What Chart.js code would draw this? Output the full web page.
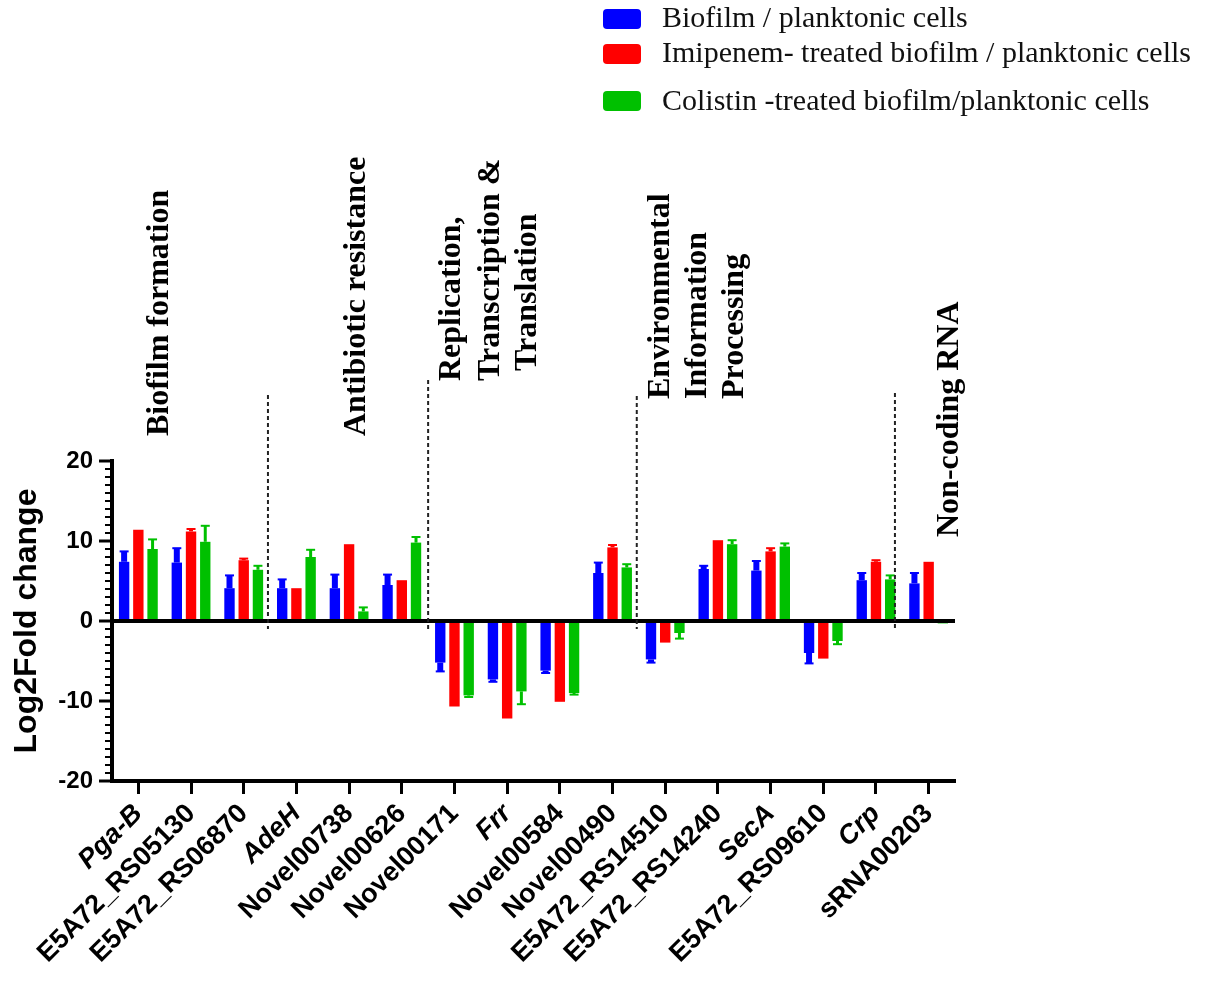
<!DOCTYPE html>
<html>
<head>
<meta charset="utf-8">
<script src="https://cdn.jsdelivr.net/npm/chart.js@4.4.1/dist/chart.umd.min.js"></script>
<style>
  html, body { margin: 0; padding: 0; background: #fff; }
  #wrap { width: 1214px; height: 982px; }
</style>
</head>
<body>
<div id="wrap"><canvas id="grafico" width="1214" height="982"></canvas></div>
<script>
// ---------------- DADOS ----------------
const genes = ["Pga-B", "E5A72_RS05130", "E5A72_RS06870", "AdeH", "Novel00738", "Novel00626",
  "Novel00171", "Frr", "Novel00584", "Novel00490", "E5A72_RS14510", "E5A72_RS14240",
  "SecA", "E5A72_RS09610", "Crp", "sRNA00203"];
const genesItalico = ["Pga-B", "AdeH", "Frr", "SecA", "Crp"];

const series = ["Biofilm / planktonic cells",
  "Imipenem- treated biofilm / planktonic cells",
  "Colistin -treated biofilm/planktonic cells"];

const biofilm     = [7.4, 7.3, 4.1, 4.1, 4.1, 4.5, -5.2, -7.3, -6.2, 6.0, -4.8, 6.5, 6.3, -4.0, 5.1, 4.7];
const biofilmErr  = [1.3, 1.8, 1.6, 1.1, 1.7, 1.3, 1.1, 0.3, 0.3, 1.3, 0.4, 0.4, 1.2, 1.3, 0.9, 1.3];
const imipenem    = [11.4, 11.2, 7.6, 4.1, 9.6, 5.1, -10.7, -12.2, -10.1, 9.2, -2.7, 10.1, 8.7, -4.7, 7.4, 7.4];
const imipenemErr = [0, 0.3, 0.2, 0, 0, 0, 0, 0, 0, 0.3, 0, 0, 0.4, 0, 0.2, 0];
const colistina    = [9.0, 9.9, 6.4, 8.0, 1.2, 9.8, -9.3, -8.8, -9.0, 6.7, -1.5, 9.6, 9.3, -2.5, 5.2, -0.3];
const colistinaErr = [1.2, 2.0, 0.5, 0.9, 0.5, 0.7, 0.2, 1.6, 0.2, 0.4, 0.7, 0.5, 0.4, 0.4, 0.5, 0];

const yTicks = [-20, -10, 0, 10, 20];

const grupos = [
  ["Biofilm formation"],
  ["Antibiotic resistance"],
  ["Replication,", "Transcription &", "Translation"],
  ["Environmental", "Information", "Processing"],
  ["Non-coding RNA"]
];

// ---------------- ESTILO / POSIÇÕES ----------------
const SANS = "'Liberation Sans', Arial, sans-serif";
const SERIF = "'Liberation Serif', 'Times New Roman', serif";
const cores = ["#0000ff", "#ff0000", "#00c000"];
const espessuraErro = [6, 4, 3];

// f = índice fracionário da categoria, y = base do texto (px)
const posGrupos = [
  [{ f: 0.41, y: 436 }],
  [{ f: 4.15, y: 436 }],
  [{ f: 5.95, y: 381 }, { f: 6.69, y: 381 }, { f: 7.40, y: 371 }],
  [{ f: 9.92, y: 399 }, { f: 10.62, y: 399 }, { f: 11.32, y: 399 }],
  [{ f: 15.4, y: 537 }]
];
const separadores = [
  { f: 2.46, topo: 395 },
  { f: 5.50, topo: 380 },
  { f: 9.46, topo: 396 },
  { f: 14.36, topo: 393 }
];
const legendaPos = [
  { y: 9, texto: 19 },
  { y: 44, texto: 54 },
  { y: 91, texto: 102 }
];

// ---------------- PLUGINS ----------------
function catX(chart, f) {
  const x = chart.scales.x;
  const p0 = x.getPixelForValue(0), p1 = x.getPixelForValue(1);
  return p0 + (p1 - p0) * f;
}

const pluginErros = {
  id: "erros",
  afterDatasetsDraw(chart) {
    const { ctx, scales: { y } } = chart;
    chart.data.datasets.forEach((ds, i) => {
      const meta = chart.getDatasetMeta(i);
      meta.data.forEach((barra, j) => {
        const v = ds.data[j], e = ds.err[j];
        if (!e) return;
        const topo = y.getPixelForValue(v + Math.sign(v) * e);
        ctx.save();
        ctx.strokeStyle = ds.backgroundColor;
        ctx.lineWidth = espessuraErro[i];
        ctx.beginPath();
        ctx.moveTo(barra.x, barra.y);
        ctx.lineTo(barra.x, topo);
        ctx.stroke();
        ctx.lineWidth = 2;
        ctx.beginPath();
        ctx.moveTo(barra.x - 4.5, topo);
        ctx.lineTo(barra.x + 4.5, topo);
        ctx.stroke();
        ctx.restore();
      });
    });

    // linha do zero por cima das barras
    const area = chart.chartArea;
    const y0 = y.getPixelForValue(0);
    ctx.save();
    ctx.strokeStyle = "#000";
    ctx.lineWidth = 4;
    ctx.beginPath();
    ctx.moveTo(area.left - 2, y0);
    ctx.lineTo(area.right, y0);
    ctx.stroke();
    ctx.restore();
  }
};

const pluginAnotacoes = {
  id: "anotacoes",
  afterDraw(chart) {
    const { ctx, scales: { y } } = chart;
    const area = chart.chartArea;

    // ticks menores do eixo y
    ctx.save();
    ctx.strokeStyle = "#000";
    ctx.lineWidth = 2;
    for (let v = -20; v <= 20; v++) {
      if (v % 10 === 0) continue;
      const py = y.getPixelForValue(v);
      ctx.beginPath();
      ctx.moveTo(area.left - 7, py);
      ctx.lineTo(area.left, py);
      ctx.stroke();
    }
    ctx.restore();

    // separadores tracejados
    ctx.save();
    ctx.strokeStyle = "#222";
    ctx.lineWidth = 2;
    ctx.setLineDash([4, 3]);
    separadores.forEach(s => {
      const px = catX(chart, s.f);
      ctx.beginPath();
      ctx.moveTo(px, s.topo);
      ctx.lineTo(px, y.getPixelForValue(0) + 8);
      ctx.stroke();
    });
    ctx.restore();

    // títulos dos grupos
    ctx.save();
    ctx.fillStyle = "#000";
    ctx.font = "bold 32px " + SERIF;
    ctx.textAlign = "left";
    ctx.textBaseline = "middle";
    grupos.forEach((linhas, g) => {
      linhas.forEach((txt, k) => {
        const p = posGrupos[g][k];
        ctx.save();
        ctx.translate(catX(chart, p.f), p.y);
        ctx.rotate(-Math.PI / 2);
        ctx.fillText(txt, 0, 0);
        ctx.restore();
      });
    });
    ctx.restore();

    // legenda
    ctx.save();
    ctx.font = "30px " + SERIF;
    ctx.textAlign = "left";
    ctx.textBaseline = "middle";
    chart.data.datasets.forEach((ds, i) => {
      const p = legendaPos[i];
      ctx.fillStyle = ds.backgroundColor;
      ctx.beginPath();
      ctx.roundRect(603, p.y, 38, 20, 4);
      ctx.fill();
      ctx.fillStyle = "#111";
      ctx.fillText(ds.label, 662, p.texto);
    });
    ctx.restore();
  }
};

// ---------------- GRÁFICO ----------------
const chart = new Chart(document.getElementById("grafico"), {
  type: "bar",
  data: {
    labels: genes,
    datasets: [
      { label: series[0], data: biofilm, err: biofilmErr, backgroundColor: cores[0] },
      { label: series[1], data: imipenem, err: imipenemErr, backgroundColor: cores[1] },
      { label: series[2], data: colistina, err: colistinaErr, backgroundColor: cores[2] }
    ]
  },
  options: {
    responsive: false,
    animation: false,
    devicePixelRatio: 1,
    layout: { padding: { top: 461, right: 259, left: 0, bottom: 0 } },
    datasets: { bar: { categoryPercentage: 0.81, barPercentage: 0.73 } },
    plugins: { legend: { display: false }, tooltip: { enabled: false } },
    scales: {
      x: {
        afterFit: s => { s.height = 201; },
        border: { color: "#000", width: 4 },
        grid: {
          offset: false, drawOnChartArea: false, drawTicks: true,
          tickLength: 13, tickColor: "#000", tickWidth: 3, color: "#000"
        },
        ticks: {
          color: "#000", minRotation: 45, maxRotation: 45, autoSkip: false, padding: 4,
          font: ctx => ({
            family: SANS, size: 27, weight: "bold",
            style: genesItalico.includes(genes[ctx.index]) ? "italic" : "normal"
          })
        }
      },
      y: {
        min: -20, max: 20,
        afterFit: s => { s.width = 112; },
        afterBuildTicks: s => { s.ticks = yTicks.map(v => ({ value: v })); },
        border: { color: "#000", width: 4 },
        grid: {
          drawTicks: true, tickLength: 13, tickColor: "#000", tickWidth: 3,
          color: "rgba(0,0,0,0)", lineWidth: 0
        },
        ticks: { color: "#000", padding: 6, font: { family: SANS, size: 24, weight: "bold" } },
        title: {
          display: true, text: "Log2Fold change", color: "#000",
          font: { family: SANS, size: 32, weight: "bold" },
          padding: { top: 8, bottom: 0 }
        }
      }
    }
  },
  plugins: [pluginErros, pluginAnotacoes]
});
</script>
</body>
</html>
